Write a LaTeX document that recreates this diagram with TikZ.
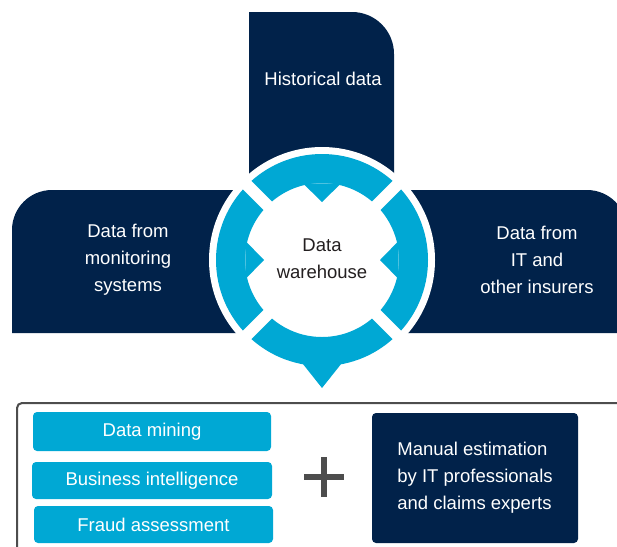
\documentclass[tikz,border=0pt]{standalone}
\usepackage{fontspec}
\setmainfont{Liberation Sans}
\usetikzlibrary{calc}
\definecolor{navy}{HTML}{01224A}
\definecolor{sky}{HTML}{00A8D4}
\definecolor{darkgrey}{HTML}{4D4D4D}
\definecolor{ink}{HTML}{231F20}
\tikzstyle{txt} = [font=\fontsize{18.5}{27}\selectfont, align=center, inner sep=0pt]
\tikzstyle{skybox} = [txt, fill=sky, text=white, rounded corners=4pt]
\tikzstyle{navybox} = [txt, fill=navy, text=white, rounded corners=4pt]
\tikzstyle{gap} = [white, line width=12pt]

\begin{document}
\begin{tikzpicture}[x=1pt, y=-1pt]
    \useasboundingbox (0,0) rectangle (617,546);
    % Sources
    \fill[navy] (249,262) -- (249,12) -- (352,12) arc[start angle=270, end angle=360, radius=42] -- (394,262) -- cycle;
    \fill[navy] (322,333) -- (12,333) -- (12,230) arc[start angle=180, end angle=270, radius=40] -- (322,190) -- cycle;
    \fill[navy] (322,190) -- (587,190) arc[start angle=270, end angle=360, radius=40] -- (627,333) -- (322,333) -- cycle;
    
    % Warehouse ring
    \coordinate (c) at (322,260);
    \fill[white] (c) circle (113);
    \fill[sky, even odd rule] (c) circle (106) (c) circle (77);
    \foreach \a in {0,180,270}
      \fill[sky] ($(c)+(\a+14:79)$) -- ($(c)+(\a:58)$) -- ($(c)+(\a-14:79)$) -- cycle;
    \fill[sky] ($(c)+(101.5:104)$) -- ($(c)+(90:128)$) -- ($(c)+(78.5:104)$) -- cycle;
    \foreach \a in {45,135,225,315}
      \draw[gap] (c) -- ($(c)+(\a:113)$);
    
    % Nodes
    \node[txt, text=white] (hist) at (323,79) {Historical data};
    \node[txt, text=white] (monitor) at (128,260) {Data from\\monitoring\\systems};
    \node[txt, text=white] (insurers) at (537,260) {Data from\\IT and\\other insurers};
    \node[txt, text=ink] (warehouse) at (322,259) {Data\\warehouse};
    
    % Tools
    \draw[darkgrey, line width=2pt, rounded corners=5pt] (17,403) rectangle (650,580);
    \node[skybox, minimum width=238pt, minimum height=39pt] (mining) at (152,431.5) {Data mining};
    \node[skybox, minimum width=240pt, minimum height=37pt] (bi) at (152,480.5) {Business intelligence};
    \node[skybox, minimum width=239pt, minimum height=37pt] (fraud) at (153.5,524.5) {Fraud assessment};
    \draw[darkgrey, line width=6pt] (304,477) -- (344,477) (324,457) -- (324,497);
    \node[navybox, align=left, minimum width=206pt, minimum height=130pt] (manual) at (475,478) {Manual estimation\\by IT professionals\\and claims experts};
  \end{tikzpicture}
\end{document}
